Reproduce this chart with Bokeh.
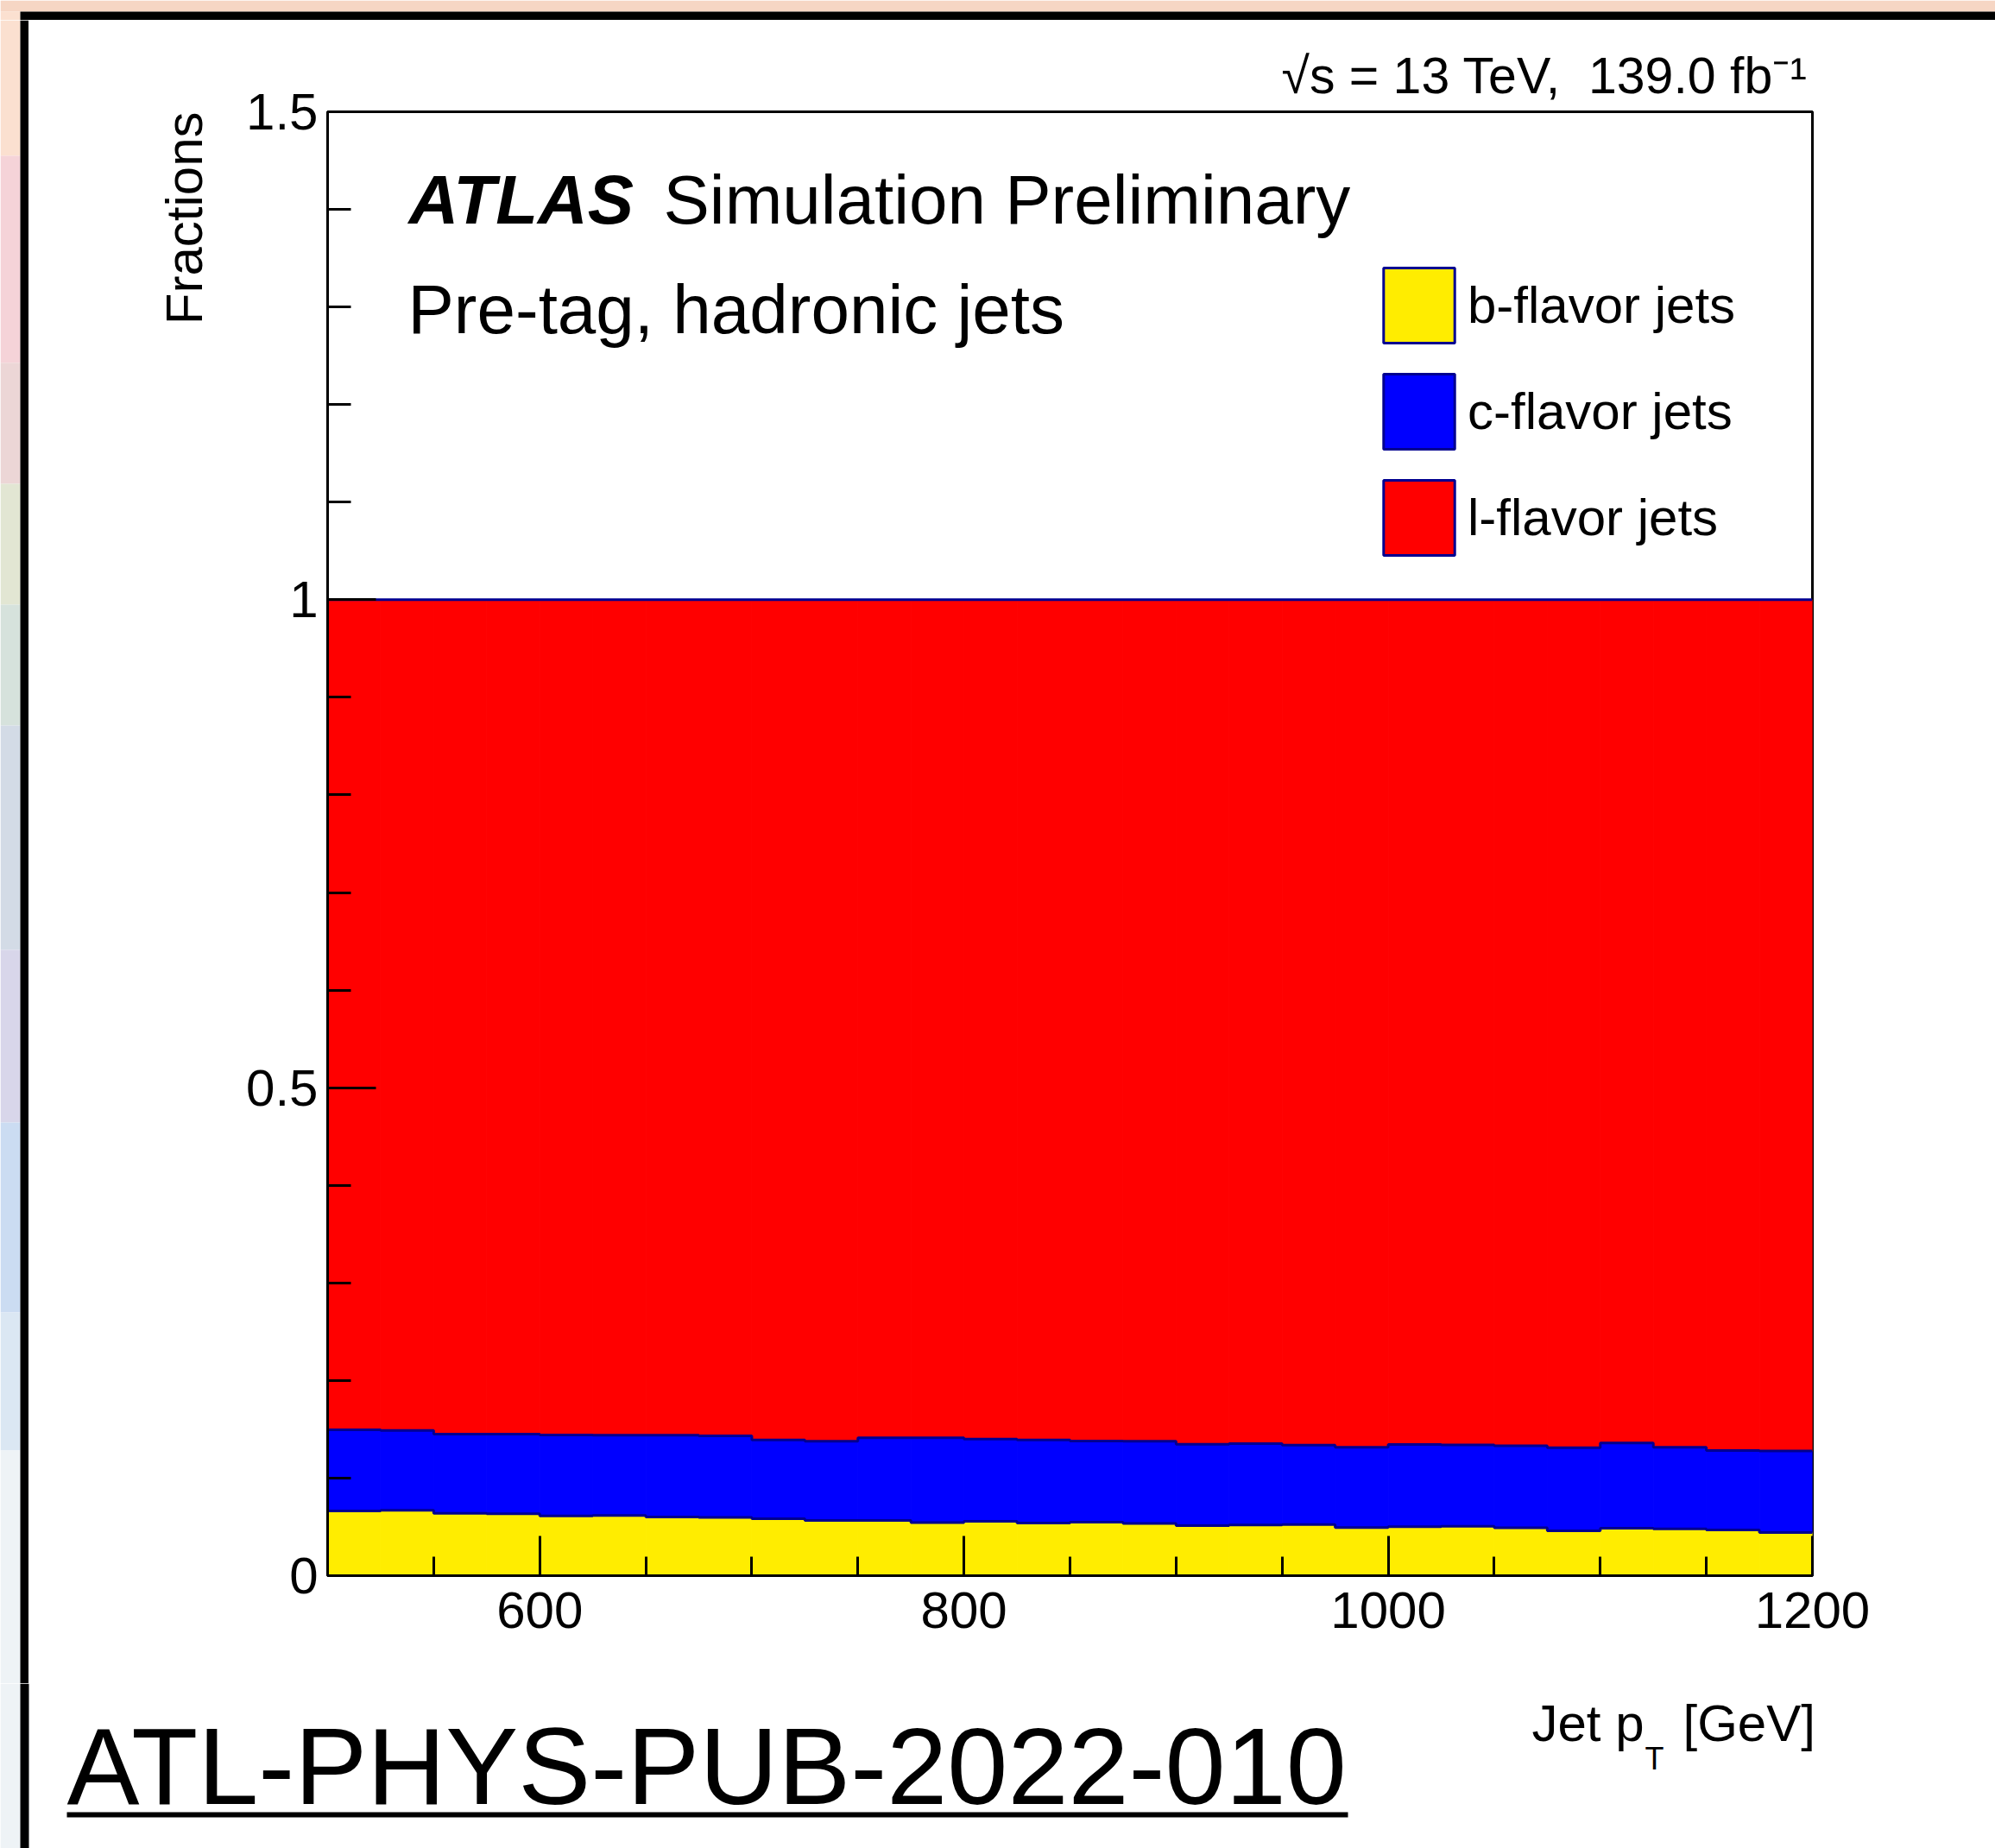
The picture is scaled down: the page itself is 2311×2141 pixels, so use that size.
import numpy as np
from bokeh.plotting import figure
from bokeh.layouts import column, row
from bokeh.models import Range1d, FixedTicker, Label, Legend, LegendItem, Title
from bokeh.embed import file_html
from bokeh.resources import INLINE

# Jet pT binning [GeV] and flavour fractions per bin
bin_edges = [500, 525, 550, 575, 600, 625, 650, 675, 700, 725, 750, 775, 800, 825, 850,
             875, 900, 925, 950, 975, 1000, 1025, 1050, 1075, 1100, 1125, 1150, 1175, 1200]
b_frac = [0.0663, 0.0669, 0.0640, 0.0634, 0.0613, 0.0616, 0.0601, 0.0596, 0.0584, 0.0566,
          0.0566, 0.0545, 0.0557, 0.0539, 0.0548, 0.0536, 0.0513, 0.0519, 0.0525, 0.0493,
          0.0501, 0.0507, 0.0490, 0.0460, 0.0486, 0.0480, 0.0469, 0.0442]
c_frac = [0.0832, 0.0820, 0.0810, 0.0816, 0.0829, 0.0824, 0.0839, 0.0837, 0.0806, 0.0811,
          0.0846, 0.0867, 0.0843, 0.0851, 0.0832, 0.0841, 0.0834, 0.0834, 0.0813, 0.0822,
          0.0843, 0.0833, 0.0840, 0.0852, 0.0873, 0.0835, 0.0813, 0.0835]
l_frac = [0.8505, 0.8511, 0.8550, 0.8550, 0.8558, 0.8560, 0.8560, 0.8567, 0.8610, 0.8623,
          0.8588, 0.8588, 0.8600, 0.8610, 0.8620, 0.8623, 0.8653, 0.8647, 0.8662, 0.8685,
          0.8656, 0.8660, 0.8670, 0.8688, 0.8641, 0.8685, 0.8718, 0.8723]
flavours = ["b-flavor jets", "c-flavor jets", "l-flavor jets"]

x_major = [600, 800, 1000, 1200]
x_minor = [550, 650, 700, 750, 850, 900, 950, 1050, 1100, 1150]
y_major = [0, 0.5, 1, 1.5]
y_minor = [0.1, 0.2, 0.3, 0.4, 0.6, 0.7, 0.8, 0.9, 1.1, 1.2, 1.3, 1.4]
y_labels = {0: "0", 0.5: "0.5", 1: "1", 1.5: "1.5"}

FONT = "Liberation Sans"
YEL, BLU, RED, NAVY = "#ffed00", "#0000ff", "#ff0000", "#000090"
SHIFT = 0.35  # baseline correction of labels, in font-size units

# page geometry (pixels)
W, H = 2311, 2141
OX, OY = 33, 23          # inner page origin (after the black page border)
SPLIT = 1950             # where the plot canvas ends and the caption strip begins
FL, FR, FT, FB = 379, 2099, 129, 1825
XLO, XHI, YLO, YHI = 500, 1200, 0.0, 1.5

# blurred backdrop seen left of the page border
strip_y0 = [0, 180, 420, 560, 700, 840, 1100, 1300, 1520, 1680]
strip_y1 = [180, 420, 560, 700, 840, 1100, 1300, 1520, 1680, H]
strip_col = ["#fbe0d0", "#f5d3d8", "#ecd6d6", "#e2e6d3", "#d6e2dc", "#d3dbe6",
             "#d8d6ea", "#cbdcf2", "#dbe7f3", "#eef3f6"]


def dx(px):
    return XLO + (px - FL) * (XHI - XLO) / (FR - FL)


def dy(py):
    return YLO + (FB - py) * (YHI - YLO) / (FB - FT)


def blank(w, h):
    f = figure(width=w, height=h, title=None, output_backend="svg", toolbar_location=None,
               x_range=Range1d(0, w), y_range=Range1d(h, 0),
               x_axis_location=None, y_axis_location=None, min_border=0)
    f.outline_line_color = None
    f.background_fill_color = "white"
    f.border_fill_color = "white"
    f.grid.grid_line_color = None
    return f


def backdrop(f, y_from, y_to):
    """Backdrop strip and black page border for the page rows y_from..y_to."""
    t0, t1, cols = [], [], []
    for a, z, col in zip(strip_y0, strip_y1, strip_col):
        a, z = max(a, y_from), min(z, y_to)
        if z > a:
            t0.append(a - y_from)
            t1.append(z - y_from)
            cols.append(col)
    f.quad(left=0, right=23, top=t0, bottom=t1, fill_color=cols, line_color=None)
    f.quad(left=[23], right=[OX], top=[0], bottom=[y_to - y_from], fill_color="black",
           line_color=None)


def label(fig, x, y, s, size, align="left", style="normal"):
    fig.add_layout(Label(x=x, y=y, text=s, text_font=FONT, text_font_size=f"{size}px",
                         text_font_style=style, text_align=align, text_baseline="alphabetic",
                         text_color="black"))


# ---- main plot ----
p = figure(title=None, output_backend="svg", toolbar_location=None,
           frame_width=FR - FL, frame_height=FB - FT,
           min_border_left=FL - OX, min_border_right=W - FR,
           min_border_top=FT - OY, min_border_bottom=SPLIT - FB,
           x_range=Range1d(XLO, XHI), y_range=Range1d(YLO, YHI))
p.background_fill_color = "white"
p.border_fill_color = "white"
p.grid.grid_line_color = None
p.outline_line_color = "black"
p.outline_line_width = 3

edges = np.array(bin_edges, dtype=float)
b = np.array(b_frac)
c = np.array(c_frac)
l = np.array(l_frac)
bc = b + c
bcl = bc + l
left, right = edges[:-1], edges[1:]
p.quad(left=left, right=right, bottom=0, top=b, fill_color=YEL, line_color=YEL, line_width=1)
p.quad(left=left, right=right, bottom=b, top=bc, fill_color=BLU, line_color=BLU, line_width=1)
p.quad(left=left, right=right, bottom=bc, top=bcl, fill_color=RED, line_color=RED, line_width=1)
for tops in (b, bc, bcl):
    p.step(x=edges, y=np.append(tops, tops[-1]), mode="after", line_color=NAVY, line_width=3)

for ax in (p.xaxis[0], p.yaxis[0]):
    ax.axis_line_width = 3
    ax.major_tick_line_width = 3
    ax.minor_tick_line_width = 3
    ax.major_tick_out = 0
    ax.minor_tick_out = 0
    ax.major_label_text_font = FONT
    ax.major_label_text_font_size = "60px"
    ax.major_label_text_color = "black"
p.xaxis.ticker = FixedTicker(ticks=x_major, minor_ticks=x_minor)
p.xaxis.major_tick_in = 46
p.xaxis.minor_tick_in = 22
p.xaxis.major_label_standoff = 19
p.yaxis.ticker = FixedTicker(ticks=y_major, minor_ticks=y_minor)
p.yaxis.major_label_overrides = y_labels
p.yaxis.major_tick_in = 56
p.yaxis.minor_tick_in = 27
p.yaxis.major_label_standoff = 11

p.add_layout(Title(text="Fractions", align="right", text_font=FONT, text_font_size="60px",
                   text_font_style="normal", text_color="black", standoff=71), "left")
p.add_layout(Title(text="\u221as = 13 TeV,\u00a0 139.0 fb\u207b\u00b9", align="left",
                   offset=1484 - FL, text_font=FONT, text_font_size="59px",
                   text_font_style="normal", text_color="black", standoff=17), "above")

# legend swatches (kept below the visible y range)
items = []
for name, col in zip(flavours, (YEL, BLU, RED)):
    r = p.quad(left=[XLO], right=[XHI], bottom=[-2], top=[-1], fill_color=col,
               line_color=NAVY, line_width=3)
    items.append(LegendItem(label=name, renderers=[r]))
legend = Legend(items=items, location=(1592 - FL, FB - 654), orientation="vertical",
                glyph_width=103, glyph_height=109, spacing=14, label_standoff=5,
                padding=0, margin=0, border_line_alpha=0, background_fill_alpha=0,
                label_text_font=FONT, label_text_font_size="60px", label_text_color="black")
p.add_layout(legend)

label(p, dx(473), dy(259 - SHIFT * 80), "ATLAS", 80, style="bold italic")
label(p, dx(768), dy(259 - SHIFT * 80), "Simulation Preliminary", 80)
label(p, dx(472), dy(386 - SHIFT * 80), "Pre-tag, hadronic jets", 80)

# ---- caption strip under the plot (page x, page y - SPLIT) ----
cap = blank(W, H - SPLIT)
backdrop(cap, SPLIT, H)
label(cap, 1774, 2017 - SPLIT - SHIFT * 60, "Jet p", 60)
label(cap, 1905, 2050 - SPLIT - SHIFT * 36, "T", 36)
label(cap, 1949, 2017 - SPLIT - SHIFT * 60, "[GeV]", 60)
label(cap, 77, 2090 - SPLIT - SHIFT * 126, "ATL-PHYS-PUB-2022-010", 126)
cap.quad(left=[77], right=[1561], top=[2099 - SPLIT], bottom=[2105 - SPLIT],
         fill_color="black", line_color=None)

# ---- page border on top and left ----
top = blank(W, OY)
top.quad(left=[0], right=[W], top=[0], bottom=[13], fill_color="#f6d6c4", line_color=None)
top.quad(left=[0], right=[23], top=[13], bottom=[OY], fill_color="#fbe0d0", line_color=None)
top.quad(left=[23], right=[W], top=[13], bottom=[OY], fill_color="black", line_color=None)

side = blank(OX, SPLIT - OY)
backdrop(side, OY, SPLIT)

page = column(top, row(side, column(p, spacing=0), spacing=0), cap, spacing=0)
open("out.html", "w").write(file_html(page, INLINE))
